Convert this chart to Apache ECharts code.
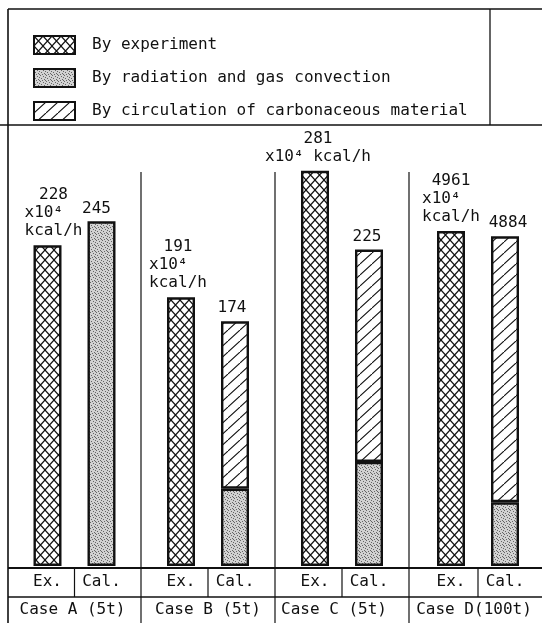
<!DOCTYPE html>
<html>
<head>
<meta charset="utf-8">
<script src="https://cdn.jsdelivr.net/npm/echarts@6/dist/echarts.min.js"></script>
<style>
  html, body { margin: 0; padding: 0; background: #fff; }
  #chart { width: 542px; height: 623px; }
</style>
</head>
<body>
<div id="chart"></div>
<script>
// ---- data ----
const cases = ['Case A (5t)', 'Case B (5t)', 'Case C (5t)', 'Case D(100t)'];
const barKinds = ['Ex.', 'Cal.'];
const seriesNames = [
  'By experiment',
  'By radiation and gas convection',
  'By circulation of carbonaceous material'
];
const experiment = [228, 191, 281, 4961];   // x10^4 kcal/h
const radiation = [245, 55, 74, 944];
const circulation = [0, 119, 151, 3940];
const unitPower = 'x10⁴';
const unitName = 'kcal/h';
// each case is drawn on its own scale (Case D is a 100 t unit)
const scaleMax = [300, 300, 300, 6250];

// ---- layout & style ----
const W = 542, H = 623;
const FONT = 'DejaVu Sans Mono';
const INK = '#111';
const cellEdges = [8, 141, 275, 409, 547];
const frameTop = 9, legendRight = 490, legendBottom = 125;
const sepTop = 172, baseY = 568, rowY = 597;
const plotTop = 144, catW = 54;
const exLabelDx = [6, -3, 3, 0];
const exLabelWide = [false, false, true, false];
const calLabelDx = [-5, -3, -2, 3];
const caseNameDx = [-2, 0, -8, -4];

function makeTile(w, h, draw) {
  const c = document.createElement('canvas');
  c.width = w; c.height = h;
  draw(c.getContext('2d'), w, h);
  return c;
}
const crossTile = makeTile(9, 10, (g, w, h) => {
  g.fillStyle = '#fff'; g.fillRect(0, 0, w, h);
  g.strokeStyle = INK; g.lineWidth = 1.2;
  g.beginPath();
  g.moveTo(0, 0); g.lineTo(w, h);
  g.moveTo(w, 0); g.lineTo(0, h);
  g.stroke();
});
const dotTile = makeTile(6, 6, (g) => {
  g.fillStyle = '#d2d2d2'; g.fillRect(0, 0, 6, 6);
  g.fillStyle = '#666';
  [[0, 0], [3, 1], [1, 3], [4, 4], [2, 5], [5, 2], [5, 5]].forEach(([x, y]) => g.fillRect(x, y, 1, 1));
});
const hatchTile = makeTile(12, 11, (g, w, h) => {
  g.fillStyle = '#fff'; g.fillRect(0, 0, w, h);
  g.strokeStyle = INK; g.lineWidth = 1.1;
  g.beginPath();
  g.moveTo(0, h); g.lineTo(w, 0);
  g.moveTo(-w, h); g.lineTo(0, 0);
  g.moveTo(w, 2 * h); g.lineTo(2 * w, h);
  g.stroke();
});
const fills = [
  { image: crossTile, repeat: 'repeat' },
  { image: dotTile, repeat: 'repeat' },
  { image: hatchTile, repeat: 'repeat' }
];
const itemStyleOf = k => ({ color: fills[k], borderColor: INK, borderWidth: 2.4 });
const baseText = { fontFamily: FONT, fontSize: 16, color: INK };

function exLabel(i) {
  const fmt = exLabelWide[i]
    ? p => `{v|${p.value}}\n{w|${unitPower} ${unitName}}`
    : p => `{v|${p.value}}\n{u|${unitPower}}\n{u|${unitName}}`;
  return {
    show: true, position: 'top', distance: 5, offset: [exLabelDx[i], 0],
    formatter: fmt,
    rich: {
      v: Object.assign({ align: 'center', lineHeight: 18 }, baseText),
      u: Object.assign({ align: 'left', lineHeight: 18 }, baseText),
      w: Object.assign({ align: 'center', lineHeight: 18 }, baseText)
    }
  };
}
function calLabel(i) {
  return Object.assign({
    show: true, position: 'top', distance: 5, offset: [calLabelDx[i], 0],
    formatter: () => String(radiation[i] + circulation[i])
  }, baseText);
}

const grids = [], xAxes = [], yAxes = [], series = [];
cases.forEach((name, i) => {
  const center = (cellEdges[i] + cellEdges[i + 1]) / 2;
  grids.push({ left: center - catW, width: 2 * catW, top: plotTop, bottom: H - baseY });
  xAxes.push({
    type: 'category', gridIndex: i, data: barKinds,
    axisLine: { show: false }, axisTick: { show: false },
    axisLabel: Object.assign({ margin: 16, verticalAlign: 'middle', interval: 0 }, baseText),
    name: name, nameLocation: 'middle', nameGap: 44,
    nameTextStyle: Object.assign({
      verticalAlign: 'middle',
      padding: caseNameDx[i] < 0 ? [0, -2 * caseNameDx[i], 0, 0] : [0, 0, 0, 2 * caseNameDx[i]]
    }, baseText)
  });
  yAxes.push({ type: 'value', gridIndex: i, min: 0, max: scaleMax[i], show: false });

  const common = { type: 'bar', xAxisIndex: i, yAxisIndex: i, barWidth: 28, barGap: '-100%' };
  const hasCirc = circulation[i] > 0;
  series.push(Object.assign({}, common, {
    name: seriesNames[0], itemStyle: itemStyleOf(0),
    data: [{ value: experiment[i], label: exLabel(i) }, '-']
  }));
  series.push(Object.assign({}, common, {
    name: seriesNames[1], itemStyle: itemStyleOf(1), stack: 'cal' + i,
    data: ['-', { value: radiation[i], label: hasCirc ? { show: false } : calLabel(i) }]
  }));
  series.push(Object.assign({}, common, {
    name: seriesNames[2], itemStyle: itemStyleOf(2), stack: 'cal' + i,
    data: ['-', hasCirc ? { value: circulation[i], label: calLabel(i) } : '-']
  }));
});

// table rules around the legend, the plot and the two label rows
const rule = (x1, y1, x2, y2, w) => ({
  type: 'line', silent: true,
  shape: { x1, y1, x2, y2 },
  style: { stroke: INK, lineWidth: w || 1.3 }
});
const graphics = [
  rule(cellEdges[0], frameTop, W, frameTop),
  rule(cellEdges[0], frameTop, cellEdges[0], H, 1.6),
  rule(legendRight, frameTop, legendRight, legendBottom),
  rule(0, legendBottom, W, legendBottom, 1.6),
  rule(cellEdges[0], baseY, W, baseY, 2.2),
  rule(cellEdges[0], rowY, W, rowY, 1.3)
];
for (let i = 1; i < cellEdges.length - 1; i++) {
  graphics.push(rule(cellEdges[i], sepTop, cellEdges[i], H, 1.2));
}
for (let i = 0; i < cases.length; i++) {
  const cx = (cellEdges[i] + cellEdges[i + 1]) / 2;
  graphics.push(rule(cx, baseY, cx, rowY, 1.2));
}

const chart = echarts.init(document.getElementById('chart'), null, { renderer: 'canvas' });
chart.setOption({
  animation: false,
  backgroundColor: '#fff',
  legend: {
    data: seriesNames, orient: 'vertical', left: 33, top: 35, padding: 0,
    itemWidth: 41, itemHeight: 18, itemGap: 13, icon: 'rect', selectedMode: false,
    textStyle: Object.assign({ padding: [0, 0, 0, 12] }, baseText)
  },
  grid: grids,
  xAxis: xAxes,
  yAxis: yAxes,
  series: series,
  graphic: graphics
});
</script>
</body>
</html>
